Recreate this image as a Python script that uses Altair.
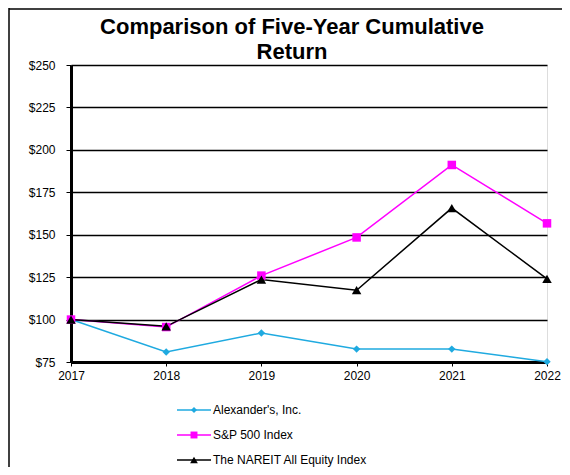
import altair as alt
import pandas as pd

years = [2017, 2018, 2019, 2020, 2021, 2022]
series_names = ["Alexander's, Inc.", "S&P 500 Index", "The NAREIT All Equity Index"]
alexanders = [100.0, 80.9, 92.1, 82.6, 82.6, 75.2]
sp500 = [100.0, 95.6, 125.9, 148.4, 191.1, 156.7]
nareit = [100.0, 96.0, 123.6, 117.3, 165.7, 124.0]
y_ticks = [75, 100, 125, 150, 175, 200, 225, 250]
colors = ["#1FAAE0", "#FF00FF", "#000000"]
shapes = ["diamond", "square", "triangle-up"]
marker_sizes = [55, 90, 80]
legend_marker_sizes = [36, 60, 45]

rows = []
for name, vals in zip(series_names, [alexanders, sp500, nareit]):
    for yr, v in zip(years, vals):
        rows.append({"Year": yr, "Value": v, "Series": name})
df = pd.DataFrame(rows)
legend_df = pd.DataFrame({"Series": series_names})

FONT = "Liberation Sans"

x_enc = alt.X("Year:Q", scale=alt.Scale(domain=[2017, 2022], nice=False, zero=False),
              axis=alt.Axis(values=years, format="d", title=None, grid=False,
                            labelFontSize=12, labelFont=FONT, labelColor="#000",
                            domainColor="#000", domainWidth=3, tickColor="#000",
                            tickSize=4, tickWidth=1, labelPadding=4,
                            labelFlush=False))
y_enc = alt.Y("Value:Q", scale=alt.Scale(domain=[75, 250], nice=False, zero=False),
              axis=alt.Axis(values=y_ticks, format="$.0f", title=None, grid=True,
                            gridColor="#000", gridWidth=1.3, gridOpacity=1,
                            labelFontSize=12, labelFont=FONT, labelColor="#000",
                            domainColor="#000", domainWidth=3, tickColor="#000",
                            tickSize=5, tickWidth=1, labelPadding=11))

color_enc = alt.Color("Series:N", scale=alt.Scale(domain=series_names, range=colors), legend=None)
shape_enc = alt.Shape("Series:N", scale=alt.Scale(domain=series_names, range=shapes), legend=None)

lines = alt.Chart(df).mark_line(strokeWidth=1.5).encode(
    x=x_enc, y=y_enc, color=color_enc, detail="Series:N",
)

points = alt.Chart(df).mark_point(filled=True, opacity=1).encode(
    x="Year:Q", y="Value:Q", color=color_enc, shape=shape_enc,
    size=alt.Size("Series:N", scale=alt.Scale(domain=series_names, range=marker_sizes), legend=None),
)

main = alt.layer(lines, points)

# legend (rows positioned by a point scale over the series names)
leg_y = alt.Y("Series:N", scale=alt.Scale(type="point", domain=series_names, range=[345, 395],
                                          padding=0), axis=None)
leg_rule = alt.Chart(legend_df).mark_rule(strokeWidth=1.5).encode(
    x=alt.value(106), x2=alt.value(140), y=leg_y, color=color_enc)
leg_pt = alt.Chart(legend_df).mark_point(filled=True, opacity=1).encode(
    x=alt.value(123), y=leg_y, color=color_enc, shape=shape_enc,
    size=alt.Size("Series:N", scale=alt.Scale(domain=series_names, range=legend_marker_sizes), legend=None))
leg_txt = alt.Chart(legend_df).mark_text(align="left", baseline="middle", font=FONT,
                                          fontSize=12, color="#000").encode(
    x=alt.value(142), y=leg_y, text="Series:N")
legend = alt.layer(leg_rule, leg_pt, leg_txt)

frame_src = alt.Data(values=[{"k": 1}])
frame_left = alt.Chart(frame_src).mark_rule(color="#000", strokeWidth=1.5).encode(
    x=alt.value(-62), y=alt.value(-57), y2=alt.value(410))
frame_top = alt.Chart(frame_src).mark_rule(color="#000", strokeWidth=1.5).encode(
    x=alt.value(-62), x2=alt.value(500), y=alt.value(-56))

chart = alt.layer(frame_left, frame_top, main, legend).resolve_scale(
    y="independent", size="independent"
).properties(
    width=476, height=297,
    autosize=alt.AutoSizeParams(type="none"),
    padding={"left": 63, "top": 57, "right": 15, "bottom": 105},
    title=alt.Title(["Comparison of Five-Year Cumulative", "Return"],
                    font=FONT, fontSize=22, fontWeight="bold", color="#000",
                    anchor="middle", frame="group", dx=-17, dy=57, offset=0, lineHeight=25),
).configure_view(stroke="#000", strokeWidth=3).configure(background="white")

chart.save("out.html", embed_options={"renderer": "svg", "actions": False})
